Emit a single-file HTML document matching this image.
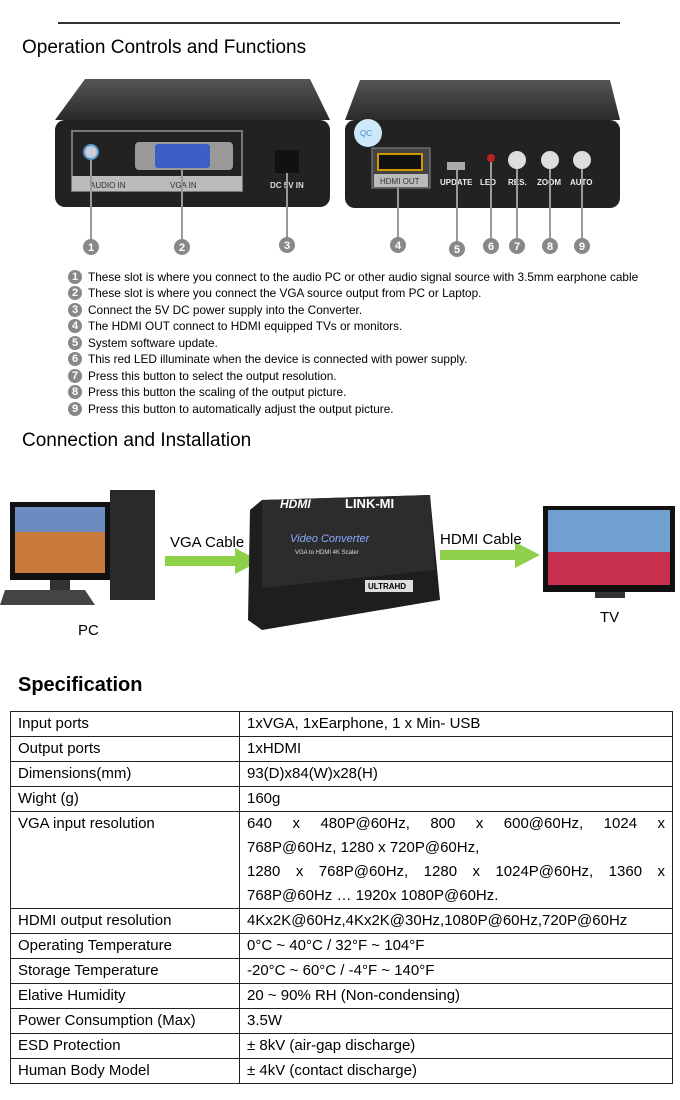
<!DOCTYPE html>
<html><head><meta charset="utf-8"><style>
body{margin:0;width:680px;height:1100px;background:#fff;position:relative;overflow:hidden;font-family:"Liberation Sans",Arial,sans-serif;color:#000}
.a{position:absolute;white-space:nowrap}
h2{position:absolute;margin:0;font-weight:normal;font-size:19px}
.li{position:absolute;left:68px;font-size:11.8px;line-height:14px}
.li b{display:inline-block;width:14px;height:14px;border-radius:7px;background:#888;color:#fff;font-size:11px;text-align:center;line-height:14px;margin-right:6px;vertical-align:top}
table{position:absolute;left:10px;top:711px;width:663px;border-collapse:collapse;font-size:15px}
td{border:1px solid #222;padding:0 7px;height:24px;vertical-align:top;line-height:24px}
td:first-child{width:214px}
.j{text-align:justify;text-align-last:justify}
</style></head><body>
<div class="a" style="left:58px;top:22px;width:562px;height:2px;background:#333"></div>
<h2 style="left:22px;top:37px">Operation Controls and Functions</h2>
<svg class="a" style="left:0;top:70px" width="680" height="195">
<defs><linearGradient id="tp" x1="0" y1="0" x2="0" y2="1"><stop offset="0" stop-color="#555"/><stop offset="1" stop-color="#2a2a2a"/></linearGradient></defs>
<path d="M85 9 L310 9 L330 50 L55 50 Z" fill="url(#tp)"/>
<rect x="55" y="50" width="275" height="87" rx="10" fill="#222"/>
<rect x="72" y="61" width="170" height="60" fill="none" stroke="#777" stroke-width="2"/>
<rect x="72" y="106" width="170" height="15" fill="#bbb"/>
<text x="90" y="118" font-size="8" fill="#333">AUDIO IN</text><text x="170" y="118" font-size="8" fill="#333">VGA IN</text>
<circle cx="91" cy="82" r="7" fill="#ccd" stroke="#59c" stroke-width="2"/>
<rect x="135" y="72" width="98" height="28" rx="4" fill="#999"/><rect x="155" y="74" width="55" height="24" rx="3" fill="#3b5fc4"/>
<rect x="275" y="80" width="24" height="23" fill="#111"/>
<text x="270" y="118" font-size="8" fill="#ddd" font-weight="bold">DC 5V IN</text>
<path d="M360 10 L610 10 L620 50 L345 50 Z" fill="url(#tp)"/>
<rect x="345" y="50" width="275" height="88" rx="10" fill="#222"/>
<circle cx="368" cy="63" r="14" fill="#cde8f8"/><text x="360" y="66" font-size="8" fill="#48c">QC</text>
<rect x="372" y="78" width="58" height="40" fill="#444" stroke="#888"/><rect x="378" y="84" width="44" height="16" fill="#111" stroke="#c90" stroke-width="2"/>
<rect x="374" y="104" width="54" height="13" fill="#bbb"/><text x="380" y="114" font-size="8" fill="#333">HDMI OUT</text>
<rect x="447" y="92" width="18" height="8" fill="#aaa"/>
<circle cx="491" cy="88" r="4" fill="#b22"/>
<circle cx="517" cy="90" r="9" fill="#ddd"/><circle cx="550" cy="90" r="9" fill="#ddd"/><circle cx="582" cy="90" r="9" fill="#ddd"/>
<g font-size="8" fill="#eee" font-weight="bold"><text x="440" y="115">UPDATE</text><text x="480" y="115">LED</text><text x="508" y="115">RES.</text><text x="537" y="115">ZOOM</text><text x="570" y="115">AUTO</text></g>
<g stroke="#999" stroke-width="2"><line x1="91" y1="90" x2="91" y2="170"/><line x1="182" y1="100" x2="182" y2="170"/><line x1="287" y1="103" x2="287" y2="170"/><line x1="398" y1="118" x2="398" y2="170"/><line x1="457" y1="100" x2="457" y2="172"/><line x1="491" y1="92" x2="491" y2="170"/><line x1="517" y1="99" x2="517" y2="170"/><line x1="550" y1="99" x2="550" y2="170"/><line x1="582" y1="99" x2="582" y2="170"/></g>
<g fill="#888"><circle cx="91" cy="177" r="8"/><circle cx="182" cy="177" r="8"/><circle cx="287" cy="175" r="8"/><circle cx="398" cy="175" r="8"/><circle cx="457" cy="179" r="8"/><circle cx="491" cy="176" r="8"/><circle cx="517" cy="176" r="8"/><circle cx="550" cy="176" r="8"/><circle cx="582" cy="176" r="8"/></g>
<g fill="#fff" font-size="11" font-weight="bold" text-anchor="middle"><text x="91" y="181">1</text><text x="182" y="181">2</text><text x="287" y="179">3</text><text x="398" y="179">4</text><text x="457" y="183">5</text><text x="491" y="180">6</text><text x="517" y="180">7</text><text x="550" y="180">8</text><text x="582" y="180">9</text></g>
</svg>
<div class="li" style="top:270px"><b>1</b>These slot is where you connect to the audio PC or other audio signal source with 3.5mm earphone cable</div>
<div class="li" style="top:286px"><b>2</b>These slot is where you connect the VGA source output from PC or Laptop.</div>
<div class="li" style="top:303px"><b>3</b>Connect the 5V DC power supply into the Converter.</div>
<div class="li" style="top:319px"><b>4</b>The HDMI OUT connect to HDMI equipped TVs or monitors.</div>
<div class="li" style="top:336px"><b>5</b>System software update.</div>
<div class="li" style="top:352px"><b>6</b>This red LED illuminate when the device is connected with power supply.</div>
<div class="li" style="top:369px"><b>7</b>Press this button to select the output resolution.</div>
<div class="li" style="top:385px"><b>8</b>Press this button the scaling of the output picture.</div>
<div class="li" style="top:402px"><b>9</b>Press this button to automatically adjust the output picture.</div>
<h2 style="left:22px;top:430px">Connection and Installation</h2>
<svg class="a" style="left:0;top:480px" width="680" height="170">
<rect x="110" y="10" width="45" height="110" fill="#2a2a2a"/>
<rect x="10" y="22" width="100" height="78" fill="#111"/><rect x="15" y="27" width="90" height="66" fill="#c77a3a"/><rect x="15" y="27" width="90" height="25" fill="#6a8cc0"/>
<rect x="50" y="100" width="20" height="15" fill="#333"/>
<path d="M5 110 L85 110 L95 125 L0 125 Z" fill="#444"/>
<rect x="165" y="76" width="70" height="10" fill="#8fd04a"/><path d="M235 68 L260 81 L235 94Z" fill="#8fd04a"/>
<path d="M262 20 L430 15 L440 120 L262 150 L248 140 L250 30 Z" fill="#1e1e1e"/>
<path d="M262 20 L430 15 L435 90 L262 108Z" fill="#2c2c2c"/>
<text x="280" y="28" fill="#fff" font-size="12" font-weight="bold" font-style="italic">HDMI</text>
<text x="345" y="28" fill="#fff" font-size="13" font-weight="bold">LINK-MI</text>
<text x="290" y="62" fill="#8af" font-size="11" font-style="italic">Video Converter</text>
<text x="295" y="74" fill="#ddd" font-size="6">VGA to HDMI 4K Scaler</text>
<rect x="365" y="100" width="48" height="12" fill="#ddd"/><text x="368" y="109" font-size="8" font-weight="bold">ULTRAHD</text>
<rect x="440" y="70" width="75" height="10" fill="#8fd04a"/><path d="M515 62 L540 75 L515 88Z" fill="#8fd04a"/>
<rect x="543" y="26" width="132" height="86" fill="#111"/><rect x="548" y="30" width="122" height="75" fill="#6fa0d0"/><rect x="548" y="72" width="122" height="33" fill="#c83050"/>
<rect x="595" y="112" width="30" height="6" fill="#333"/>
</svg>
<div class="a" style="left:170px;top:534px;font-size:15px">VGA Cable</div>
<div class="a" style="left:440px;top:531px;font-size:15px">HDMI Cable</div>
<div class="a" style="left:78px;top:622px;font-size:15px">PC</div>
<div class="a" style="left:600px;top:609px;font-size:15px">TV</div>
<div class="a" style="left:18px;top:674px;font-size:20px;font-weight:bold">Specification</div>
<table>
<tr><td>Input ports</td><td>1xVGA, 1xEarphone, 1 x Min- USB</td></tr>
<tr><td>Output ports</td><td>1xHDMI</td></tr>
<tr><td>Dimensions(mm)</td><td>93(D)x84(W)x28(H)</td></tr>
<tr><td>Wight (g)</td><td>160g</td></tr>
<tr><td>VGA input resolution</td><td style="height:96px"><div class="j">640 x 480P@60Hz, 800 x 600@60Hz, 1024 x</div><div>768P@60Hz, 1280 x 720P@60Hz,</div><div class="j">1280 x 768P@60Hz, 1280 x 1024P@60Hz, 1360 x</div><div>768P@60Hz … 1920x 1080P@60Hz.</div></td></tr>
<tr><td>HDMI output resolution</td><td>4Kx2K@60Hz,4Kx2K@30Hz,1080P@60Hz,720P@60Hz</td></tr>
<tr><td>Operating Temperature</td><td>0°C ~ 40°C / 32°F ~ 104°F</td></tr>
<tr><td>Storage Temperature</td><td>-20°C ~ 60°C / -4°F ~ 140°F</td></tr>
<tr><td>Elative Humidity</td><td>20 ~ 90% RH (Non-condensing)</td></tr>
<tr><td>Power Consumption (Max)</td><td>3.5W</td></tr>
<tr><td>ESD Protection</td><td>± 8kV (air-gap discharge)</td></tr>
<tr><td>Human Body Model</td><td>± 4kV (contact discharge)</td></tr>
</table>
</body></html>
